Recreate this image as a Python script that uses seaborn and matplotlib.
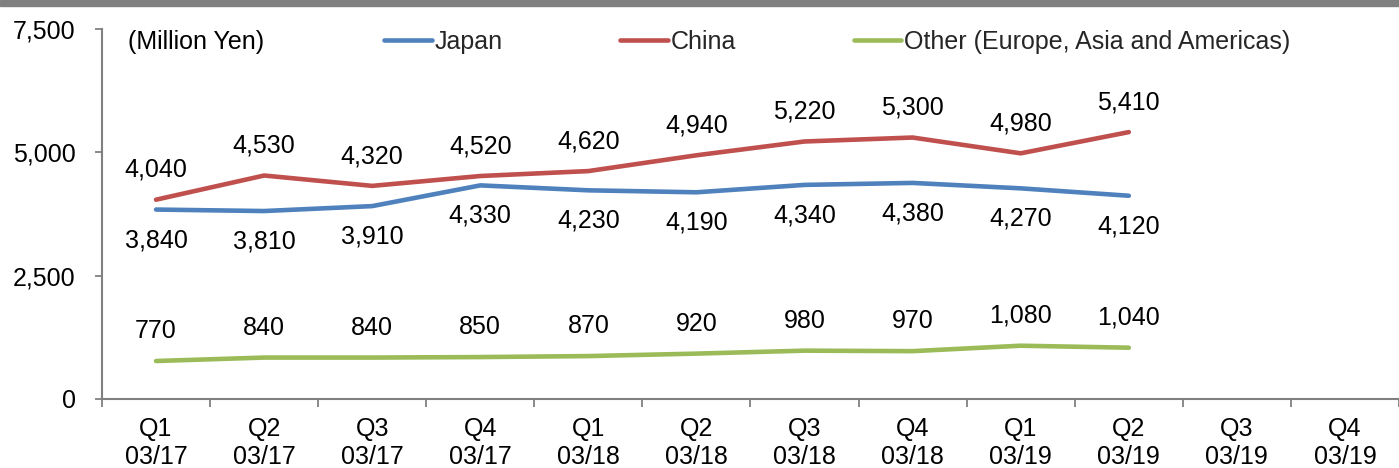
import numpy as np
import pandas as pd
import matplotlib
matplotlib.use("Agg")
import matplotlib.pyplot as plt
from matplotlib.patches import Rectangle
from matplotlib.ticker import FuncFormatter, FixedLocator
import seaborn as sns

# ---- data ----
quarters = ["Q1", "Q2", "Q3", "Q4", "Q1", "Q2", "Q3", "Q4", "Q1", "Q2", "Q3", "Q4"]
years = ["03/17", "03/17", "03/17", "03/17", "03/18", "03/18", "03/18", "03/18",
         "03/19", "03/19", "03/19", "03/19"]
japan = [3840, 3810, 3910, 4330, 4230, 4190, 4340, 4380, 4270, 4120]
china = [4040, 4530, 4320, 4520, 4620, 4940, 5220, 5300, 4980, 5410]
other = [770, 840, 840, 850, 870, 920, 980, 970, 1080, 1040]
series_names = ["Japan", "China", "Other (Europe, Asia and Americas)"]
unit_label = "(Million Yen)"
y_ticks = [0, 2500, 5000, 7500]

colors = {"Japan": "#4F81BD", "China": "#C0504D",
          "Other (Europe, Asia and Americas)": "#9BBB59"}

rows = []
for name, vals in zip(series_names, [japan, china, other]):
    for i, v in enumerate(vals):
        rows.append({"pos": i, "region": name, "value": v})
df = pd.DataFrame(rows)

sns.set_theme(style="white")
plt.rcParams["font.family"] = ["Liberation Sans", "DejaVu Sans"]
FS = 18

fig = plt.figure(figsize=(13.99, 4.68), dpi=100)
ax = fig.add_axes([102 / 1399, 1 - 399 / 468, 1 - 102 / 1399, (399 - 29) / 468])

sns.lineplot(data=df, x="pos", y="value", hue="region", hue_order=series_names,
             palette=colors, linewidth=3.3, ax=ax, legend=True)

# data labels
offsets = {"Japan": -22, "China": 21.5, "Other (Europe, Asia and Americas)": 21.5}
for name, vals in zip(series_names, [japan, china, other]):
    for i, v in enumerate(vals):
        ax.annotate(f"{v:,}", (i, v), xytext=(0, offsets[name]),
                    textcoords="offset points", ha="center", va="center",
                    fontsize=FS, color="black")

ax.set_xlim(-0.5, len(quarters) - 0.5)
ax.set_ylim(0, 7500)
ax.set_yticks(y_ticks)
ax.yaxis.set_major_formatter(FuncFormatter(lambda v, p: f"{int(v):,}"))
ax.set_xlabel("")
ax.set_ylabel("")

ax.xaxis.set_major_locator(FixedLocator(np.arange(len(quarters) + 1) - 0.5))
ax.xaxis.set_minor_locator(FixedLocator(np.arange(len(quarters))))
ax.set_xticklabels([])
ax.set_xticklabels([f"{q}\n{y}" for q, y in zip(quarters, years)], minor=True)
for t in ax.get_xticklabels(minor=True):
    t.set_linespacing(1.2)

ax.tick_params(axis="x", which="major", direction="out", length=6, width=1.3,
               color="#808080", bottom=True)
ax.tick_params(axis="x", which="minor", length=0, pad=13, labelsize=FS,
               labelcolor="black", bottom=True)
ax.tick_params(axis="y", which="major", direction="out", length=5, width=1.3,
               color="#808080", left=True, pad=14, labelsize=FS, labelcolor="black")

for s in ["top", "right"]:
    ax.spines[s].set_visible(False)
for s in ["left", "bottom"]:
    ax.spines[s].set_color("#808080")
    ax.spines[s].set_linewidth(1.5)
ax.grid(False)

# legend
handles, labels = ax.get_legend_handles_labels()
if ax.get_legend() is not None:
    ax.get_legend().remove()
leg = fig.legend(handles, labels, loc="center left",
                 bbox_to_anchor=(384 / 1399, 1 - 42 / 468),
                 ncol=3, frameon=False, fontsize=FS, handlelength=1.9,
                 handletextpad=0.12, columnspacing=4.7, borderpad=0,
                 borderaxespad=0)
for l in leg.get_lines():
    l.set_linewidth(3.3)

fig.text(128 / 1399, 1 - 42 / 468, unit_label, ha="left", va="center",
         fontsize=FS, color="black")

# gray top bar
fig.patches.append(Rectangle((0, 1 - 6 / 468), 1, 6 / 468, transform=fig.transFigure,
                             color="#808080", zorder=10))

fig.savefig("out.png", dpi=100)
